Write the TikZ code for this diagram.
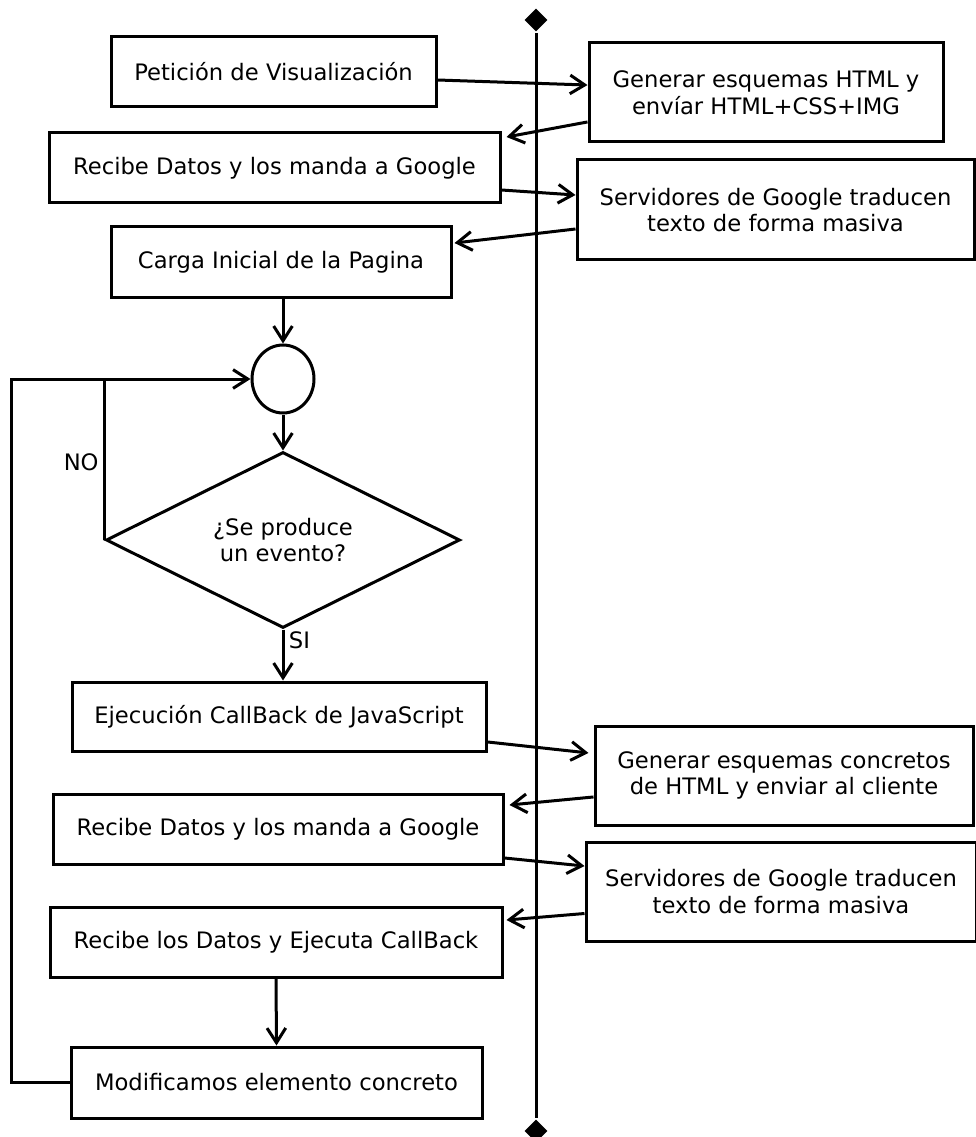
\documentclass[tikz,border=0pt]{standalone}
\usepackage{fontspec}
\setmainfont{DejaVu Sans}
\usetikzlibrary{arrows.meta,shapes.geometric}

\begin{document}
\begin{tikzpicture}[x=0.75pt,y=-0.75pt,
    line width=2.25pt,
    >={Straight Barb[length=11pt,width=14pt]},
    font=\fontsize{17}{20}\selectfont,
    caja/.style={draw,rectangle,inner sep=0pt,align=center},
    cruce/.style={draw,ellipse,inner sep=0pt,minimum width=46.5pt,minimum height=51pt},
    pregunta/.style={draw,diamond,aspect=2,inner sep=0pt,align=center,minimum width=265.5pt,minimum height=132pt},
    extremo/.style={diamond,fill=black,inner sep=0pt,minimum size=18pt}]
    \useasboundingbox (0,0) rectangle (975,1137);

    % linea de tiempo
    \node[extremo] (arriba) at (536,20) {};
    \node[extremo] (abajo) at (536,1131) {};
    \draw (arriba) -- (abajo);

    % cliente
    \node[caja,minimum width=243.75pt,minimum height=52.5pt] (peticion) at (273.5,72) {Petición de Visualización};
    \node[caja,minimum width=338.25pt,minimum height=52.5pt] (recibe) at (274.5,168) {Recibe Datos y los manda a Google};
    \node[caja,minimum width=255pt,minimum height=53.25pt] (carga) at (281,262.5) {Carga Inicial de la Pagina};
    \node[cruce] (espera) at (283,379) {};
    \node[pregunta] (evento) at (283,540) {¿Se produce\\un evento?};
    \node[caja,minimum width=310.5pt,minimum height=51.75pt] (callback) at (279,716.5) {Ejecución CallBack de JavaScript};
    \node[caja,minimum width=337.5pt,minimum height=52.5pt] (recibedos) at (278,829) {Recibe Datos y los manda a Google};
    \node[caja,minimum width=339pt,minimum height=52.5pt] (ejecuta) at (276,942) {Recibe los Datos y Ejecuta CallBack};
    \node[caja,minimum width=308.25pt,minimum height=53.25pt] (modifica) at (276.5,1082.5) {Modificamos elemento concreto};

    % servidor
    \node[caja,minimum width=265.5pt,minimum height=74.25pt] (genera) at (766,92.5) {Generar esquemas HTML y\\envíar HTML+CSS+IMG};
    \node[caja,minimum width=297.75pt,minimum height=75pt] (google) at (775.5,210) {Servidores de Google traducen\\texto de forma masiva};
    \node[caja,minimum width=283.5pt,minimum height=74.25pt] (generados) at (784,775.5) {Generar esquemas concretos\\de HTML y enviar al cliente};
    \node[caja,minimum width=292.5pt,minimum height=74.25pt] (googledos) at (781,891.5) {Servidores de Google traducen\\texto de forma masiva};

    % mensajes
    \draw[->] ([yshift=-6pt]peticion.east) -- ([yshift=5.6pt]genera.west);
    \draw[->] ([yshift=-22.1pt]genera.west) -- ([xshift=3.75pt,yshift=23.25pt]recibe.east);
    \draw[->] ([yshift=-16.5pt]recibe.east) -- ([yshift=11.25pt]google.west);
    \draw[->] ([yshift=-14.25pt]google.west) -- ([xshift=1.5pt,yshift=14.6pt]carga.east);
    \draw[->] ([yshift=-19.1pt]callback.east) -- ([xshift=-3.75pt,yshift=16.9pt]generados.west);
    \draw[->] ([yshift=-16.1pt]generados.west) -- ([xshift=3.75pt,yshift=18pt]recibedos.east);
    \draw[->] ([yshift=-21.75pt]recibedos.east) -- ([yshift=19.1pt]googledos.west);
    \draw[->] ([yshift=-16.5pt]googledos.west) -- ([xshift=2.25pt,yshift=16.5pt]ejecuta.east);

    % flujo
    \draw[->] (espera.north |- carga.south) -- (espera.north);
    \draw[->] (espera.south) -- (evento.north);
    \draw[->] (evento.south) -- node[right,pos=0.22] {SI} (evento.south |- callback.north);
    \draw[->] (ejecuta.south) -- (modifica.north);
    \draw[->] (modifica.west) -- ++(-58,0) |- (espera.west);
    \draw (evento.west) -- node[left,pos=0.48] {NO} (evento.west |- espera.west);
\end{tikzpicture}
\end{document}
